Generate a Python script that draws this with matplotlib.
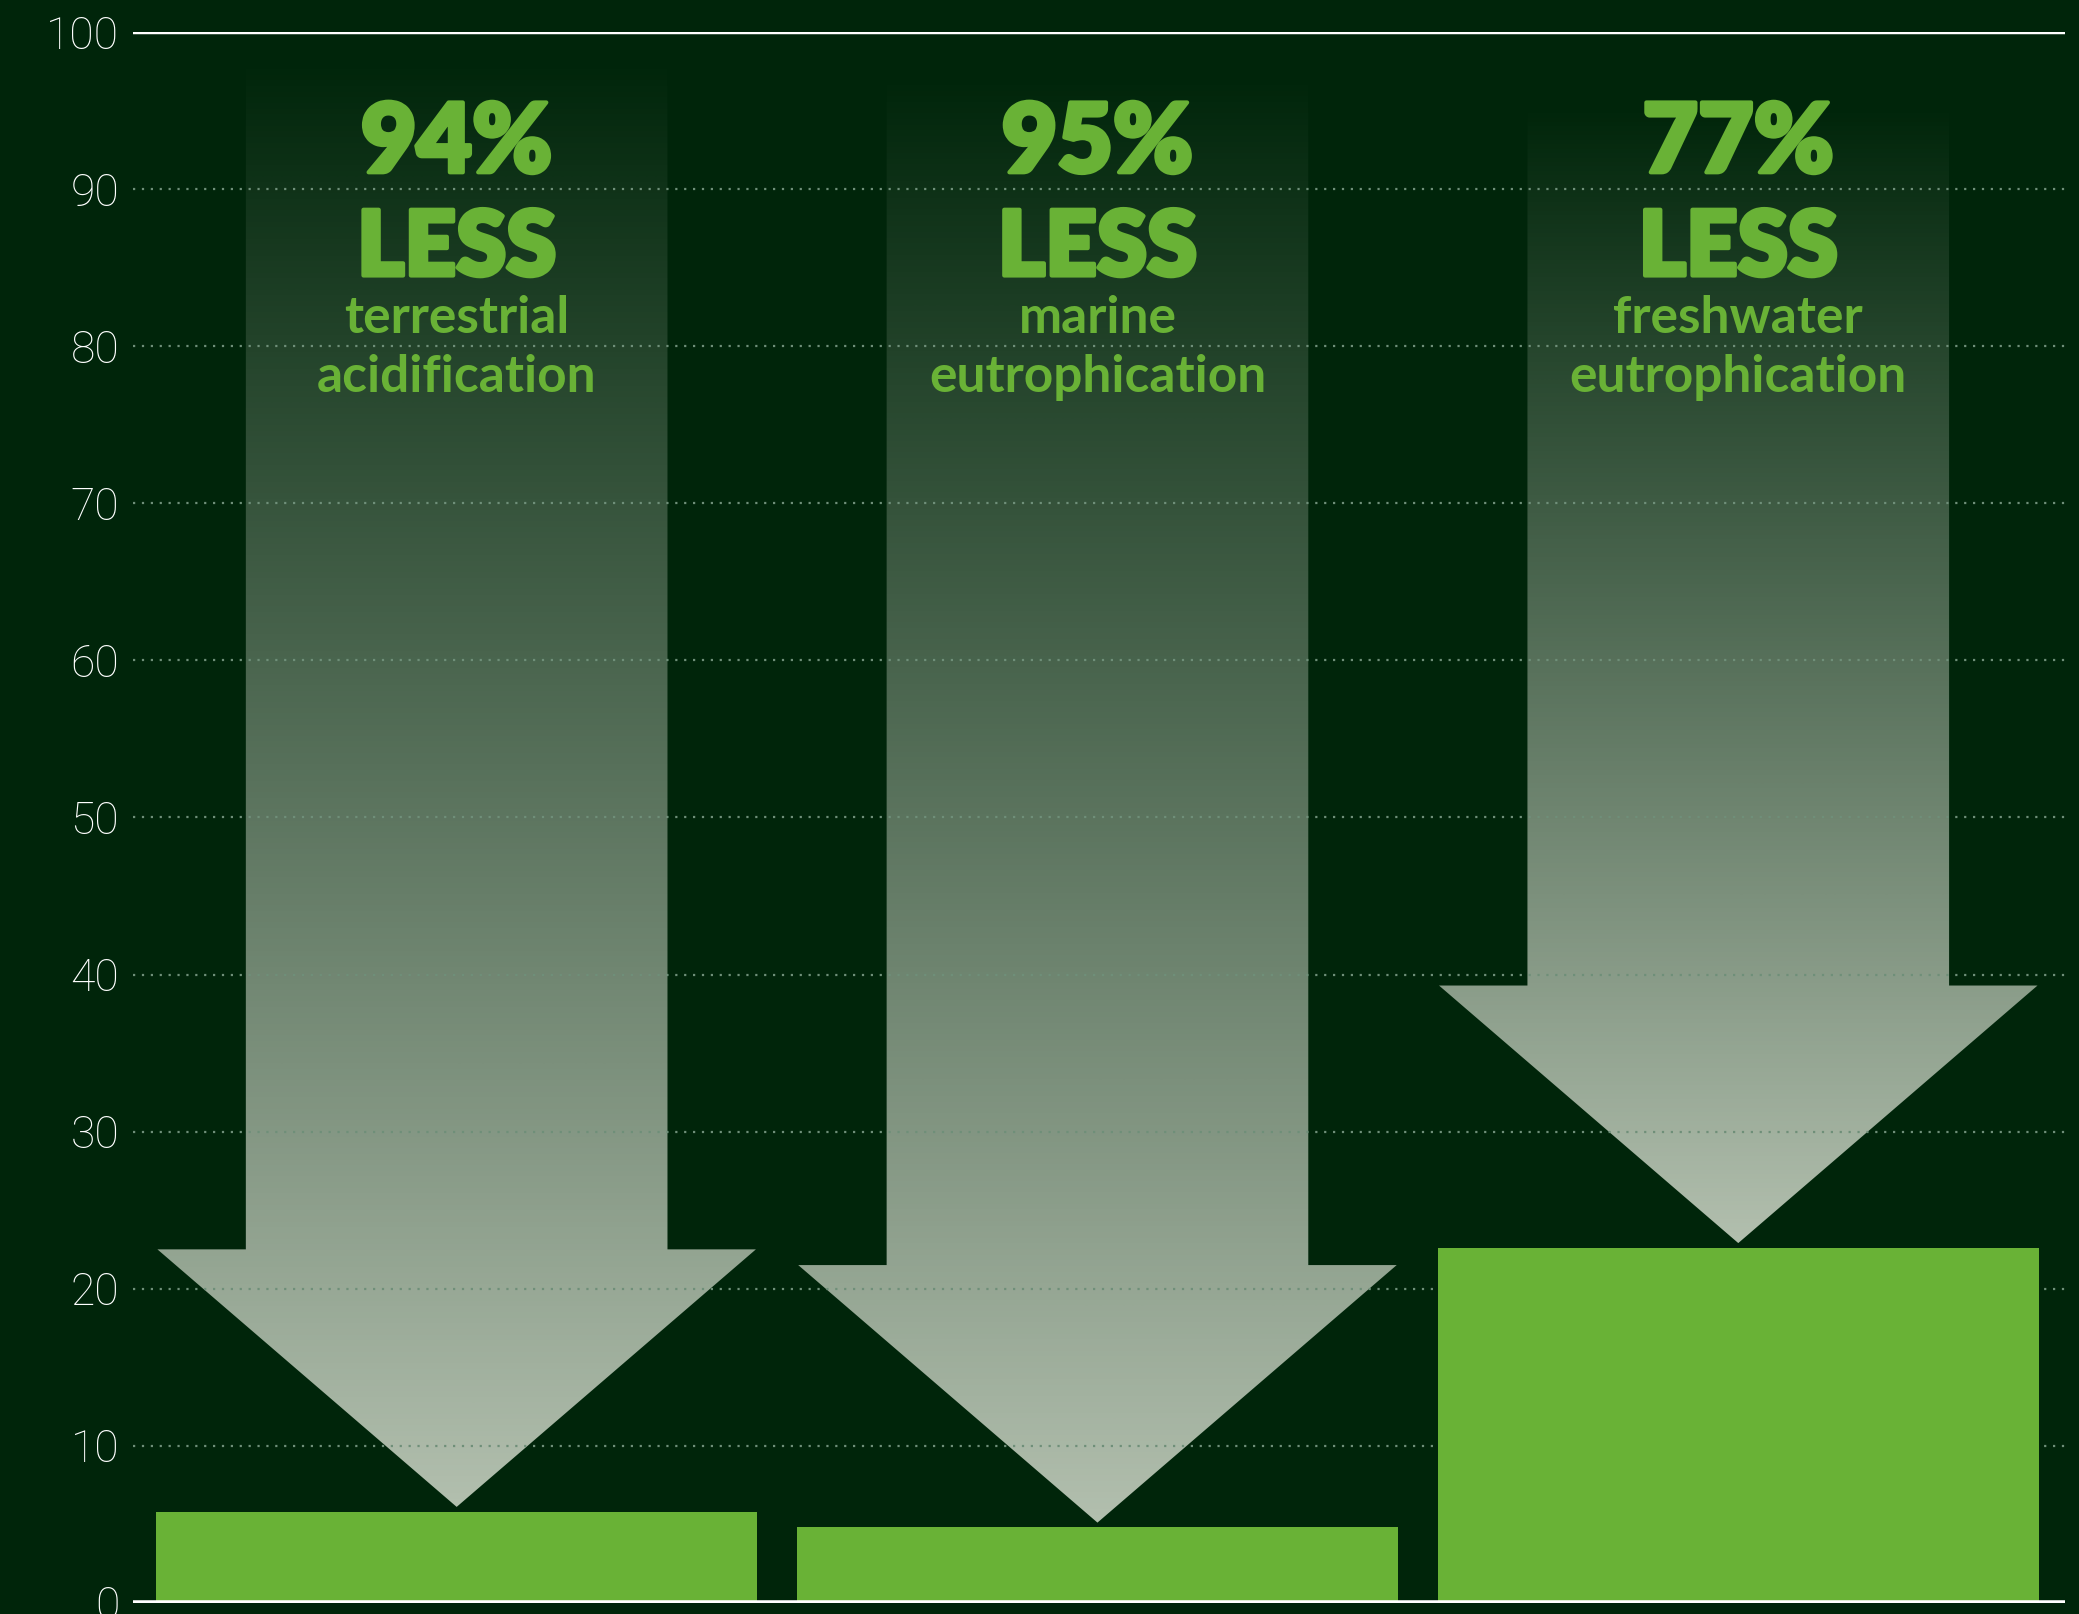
import numpy as np
import matplotlib.pyplot as plt
import matplotlib.patheffects as pe
from matplotlib.patches import Polygon
from matplotlib.colors import LinearSegmentedColormap

# values (index 100 = before)
categories = ['terrestrial\nacidification', 'marine\neutrophication', 'freshwater\neutrophication']
reductions = ['94%', '95%', '77%']
bar_values = [5.8, 4.8, 22.6]
arrow_tops = [98.5, 97.5, 95.5]
yticks = [0, 10, 20, 30, 40, 50, 60, 70, 80, 90, 100]

bg = '#00250a'
green = '#69b236'
grid_col = '#6f8f79'

fig = plt.figure(figsize=(20.79, 16.14), dpi=100, facecolor=bg)
ax = fig.add_axes([0.064, 0.007, 0.9293, 0.973])
ax.set_facecolor(bg)

x = np.arange(len(categories))
cmap = LinearSegmentedColormap.from_list('arrow', [bg, '#b2bfae'])

shaft_hw = 0.329
head_hw = 0.467
head_len = 16.4
gap = 0.3

for i in range(len(categories)):
    tip = bar_values[i] + gap
    base = tip + head_len
    top = arrow_tops[i]
    xc = x[i]
    pts = [(xc - shaft_hw, top), (xc + shaft_hw, top), (xc + shaft_hw, base),
           (xc + head_hw, base), (xc, tip), (xc - head_hw, base),
           (xc - shaft_hw, base)]
    poly = Polygon(pts, closed=True, facecolor='none', edgecolor='none')
    ax.add_patch(poly)
    # light at the tip, fading into the background at the top
    grad = np.linspace(1, 0, 256).reshape(-1, 1)
    im = ax.imshow(grad, cmap=cmap, vmin=0, vmax=1,
                   extent=[xc - head_hw, xc + head_hw, tip, top],
                   aspect='auto', origin='lower', zorder=1, interpolation='bilinear')
    im.set_clip_path(poly)

ax.bar(x, bar_values, width=0.938, color=green, zorder=3)

for y in yticks[1:-1]:
    ax.axhline(y, color=grid_col, linewidth=1.6, linestyle=(0, (1, 3)), zorder=2)
ax.axhline(100, color='white', linewidth=2.5, zorder=4)
ax.axhline(0, color='white', linewidth=4, zorder=4)

heavy = [pe.Stroke(linewidth=3, foreground=green), pe.Normal()]
for i in range(len(categories)):
    ax.text(x[i], 92.9, reductions[i], ha='center', va='center', color=green,
            fontsize=69, fontfamily='Lato', fontweight='heavy', zorder=5,
            path_effects=heavy)
    ax.text(x[i], 86.2, 'LESS', ha='center', va='center', color=green,
            fontsize=65, fontfamily='Lato', fontweight='heavy', zorder=5,
            path_effects=heavy)
    line1, line2 = categories[i].split('\n')
    ax.text(x[i], 81.8, line1, ha='center', va='center', color=green,
            fontsize=37, fontfamily='Lato', fontweight='bold', zorder=5)
    ax.text(x[i], 78.0, line2, ha='center', va='center', color=green,
            fontsize=37, fontfamily='Lato', fontweight='bold', zorder=5)

ax.set_xlim(-0.505, 2.51)
ax.set_ylim(0, 100)
ax.set_yticks(yticks)
ax.set_yticklabels([str(t) for t in yticks], fontsize=32, color='white',
                   fontfamily='Roboto', fontweight='light')
ax.tick_params(axis='y', length=0, pad=10)
ax.set_xticks([])
for s in ax.spines.values():
    s.set_visible(False)

fig.savefig('out.png', dpi=100, facecolor=bg)
